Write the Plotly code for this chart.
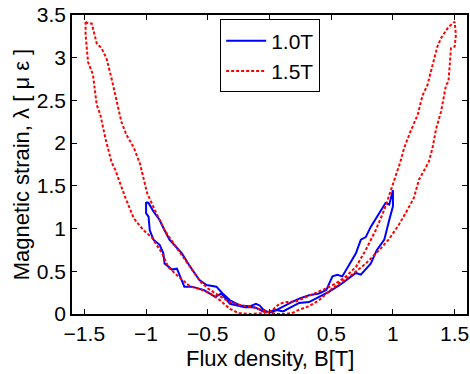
import plotly.graph_objects as go

# 1.0T loop (B, lambda)
b_10 = [-1.00,-0.98,-0.94,-0.89,-0.85,-0.81,-0.76,-0.71,-0.65,-0.57,-0.51,-0.43,-0.38,-0.32,-0.24,-0.16,-0.11,-0.08,-0.05,-0.01,0.05,0.11,0.16,0.24,0.32,0.40,0.48,0.57,0.65,0.70,0.74,0.78,0.82,0.87,0.93,0.97,1.00,1.00,
        0.97,0.94,0.89,0.82,0.78,0.74,0.70,0.65,0.59,0.55,0.51,0.46,0.40,0.32,0.24,0.18,0.10,0.02,-0.05,-0.12,-0.20,-0.27,-0.32,-0.39,-0.44,-0.53,-0.63,-0.69,-0.70,-0.73,-0.75,-0.79,-0.85,-0.86,-0.89,-0.94,-0.97,-0.98,-1.00,-1.00]
l_10 = [1.31,1.30,1.20,1.10,0.98,0.87,0.79,0.71,0.57,0.40,0.34,0.32,0.24,0.16,0.10,0.09,0.12,0.10,0.05,0.02,0.05,0.03,0.07,0.13,0.14,0.20,0.26,0.34,0.42,0.48,0.46,0.52,0.59,0.75,0.87,1.10,1.26,1.45,
        1.28,1.30,1.18,1.02,0.90,0.87,0.71,0.59,0.44,0.46,0.44,0.28,0.24,0.22,0.18,0.14,0.08,0.02,0.03,0.08,0.08,0.10,0.12,0.24,0.20,0.28,0.32,0.32,0.36,0.46,0.53,0.52,0.59,0.71,0.81,0.87,0.98,1.14,1.18,1.31]

# 1.5T loop (B, lambda)
b_15 = [-1.49,-1.47,-1.44,-1.40,-1.36,-1.32,-1.28,-1.24,-1.20,-1.16,-1.10,-1.05,-1.02,-0.99,-0.93,-0.85,-0.76,-0.68,-0.62,-0.56,-0.50,-0.43,-0.36,-0.30,-0.22,-0.11,-0.03,0.05,0.12,0.18,0.24,0.32,0.40,0.51,0.65,0.78,0.89,0.97,1.05,1.11,1.17,1.21,1.29,1.32,1.35,1.39,1.43,1.45,1.47,1.50,1.51,1.50,
        1.45,1.39,1.36,1.32,1.28,1.24,1.20,1.14,1.09,1.06,1.02,0.98,0.93,0.86,0.78,0.70,0.62,0.54,0.46,0.38,0.30,0.22,0.14,0.08,0.02,-0.05,-0.15,-0.25,-0.32,-0.40,-0.48,-0.56,-0.64,-0.74,-0.82,-0.87,-0.95,-1.02,-1.10,-1.17,-1.25,-1.28,-1.33,-1.37,-1.40,-1.43,-1.47,-1.49,-1.49]
l_15 = [3.42,3.40,3.40,3.17,3.11,2.99,2.76,2.52,2.25,2.10,1.95,1.76,1.57,1.41,1.22,0.98,0.79,0.63,0.50,0.38,0.30,0.24,0.17,0.13,0.10,0.07,0.03,0.00,0.00,0.01,0.05,0.09,0.16,0.30,0.44,0.59,0.75,0.88,1.05,1.20,1.36,1.57,1.78,1.94,2.17,2.37,2.68,2.72,3.11,3.13,3.27,3.42,
        3.36,3.23,3.13,2.91,2.68,2.56,2.33,2.13,1.94,1.78,1.61,1.45,1.22,0.98,0.75,0.55,0.44,0.36,0.30,0.25,0.20,0.15,0.14,0.12,0.04,0.01,0.00,0.01,0.06,0.16,0.24,0.29,0.32,0.44,0.55,0.71,0.89,0.98,1.12,1.37,1.69,1.78,2.06,2.33,2.45,2.80,2.95,3.27,3.42]

x_ticks = [-1.5, -1, -0.5, 0, 0.5, 1, 1.5]
x_tick_labels = ["\u22121.5", "\u22121", "\u22120.5", "0", "0.5", "1", "1.5"]
y_ticks = [0, 0.5, 1, 1.5, 2, 2.5, 3, 3.5]
y_tick_labels = ["0", "0.5", "1", "1.5", "2", "2.5", "3", "3.5"]
x_title = "Flux density, B[T]"
y_title = "Magnetic strain, \u03bb [ \u03bc \u03b5 ]"

fig = go.Figure()
fig.add_trace(go.Scatter(x=b_10, y=l_10, mode="lines", name="1.0T",
                         line=dict(color="#0000FF", width=2)))
fig.add_trace(go.Scatter(x=b_15, y=l_15, mode="lines", name="1.5T",
                         line=dict(color="#FF0000", width=2, dash="3px,2px")))

font = "Liberation Sans, Arial, sans-serif"
fig.update_layout(
    width=470, height=374,
    margin=dict(l=72, r=3, t=15, b=60, autoexpand=False),
    paper_bgcolor="white", plot_bgcolor="white",
    font=dict(family=font, size=21, color="black"),
    showlegend=True,
    legend=dict(x=0.375, y=0.985, xanchor="left", yanchor="top",
                bordercolor="black", borderwidth=1, bgcolor="white",
                font=dict(size=21), itemwidth=40, tracegroupgap=0),
    xaxis=dict(range=[-1.6, 1.6], tickvals=x_ticks, ticktext=x_tick_labels,
               ticks="inside", ticklen=5, tickcolor="black", mirror="ticks",
               showline=True, linecolor="black", linewidth=1.5,
               showgrid=False, zeroline=False, tickfont=dict(size=21),
               automargin=False),
    yaxis=dict(range=[0, 3.5], tickvals=y_ticks, ticktext=y_tick_labels,
               ticks="inside", ticklen=5, tickcolor="black", mirror="ticks",
               showline=True, linecolor="black", linewidth=1.5,
               showgrid=False, zeroline=False, tickfont=dict(size=21),
               automargin=False),
    annotations=[
        dict(text=x_title, xref="paper", yref="paper", x=0.5, y=-0.15,
             xanchor="center", yanchor="middle", showarrow=False,
             font=dict(size=22)),
        dict(text=y_title, xref="paper", yref="paper", x=-0.127, y=0.5,
             xanchor="center", yanchor="middle", showarrow=False,
             textangle=-90, font=dict(size=22)),
    ],
)

fig.write_html("out.html", config={"displayModeBar": False},
               post_script="document.body.style.margin='0';document.body.style.overflow='hidden';")
